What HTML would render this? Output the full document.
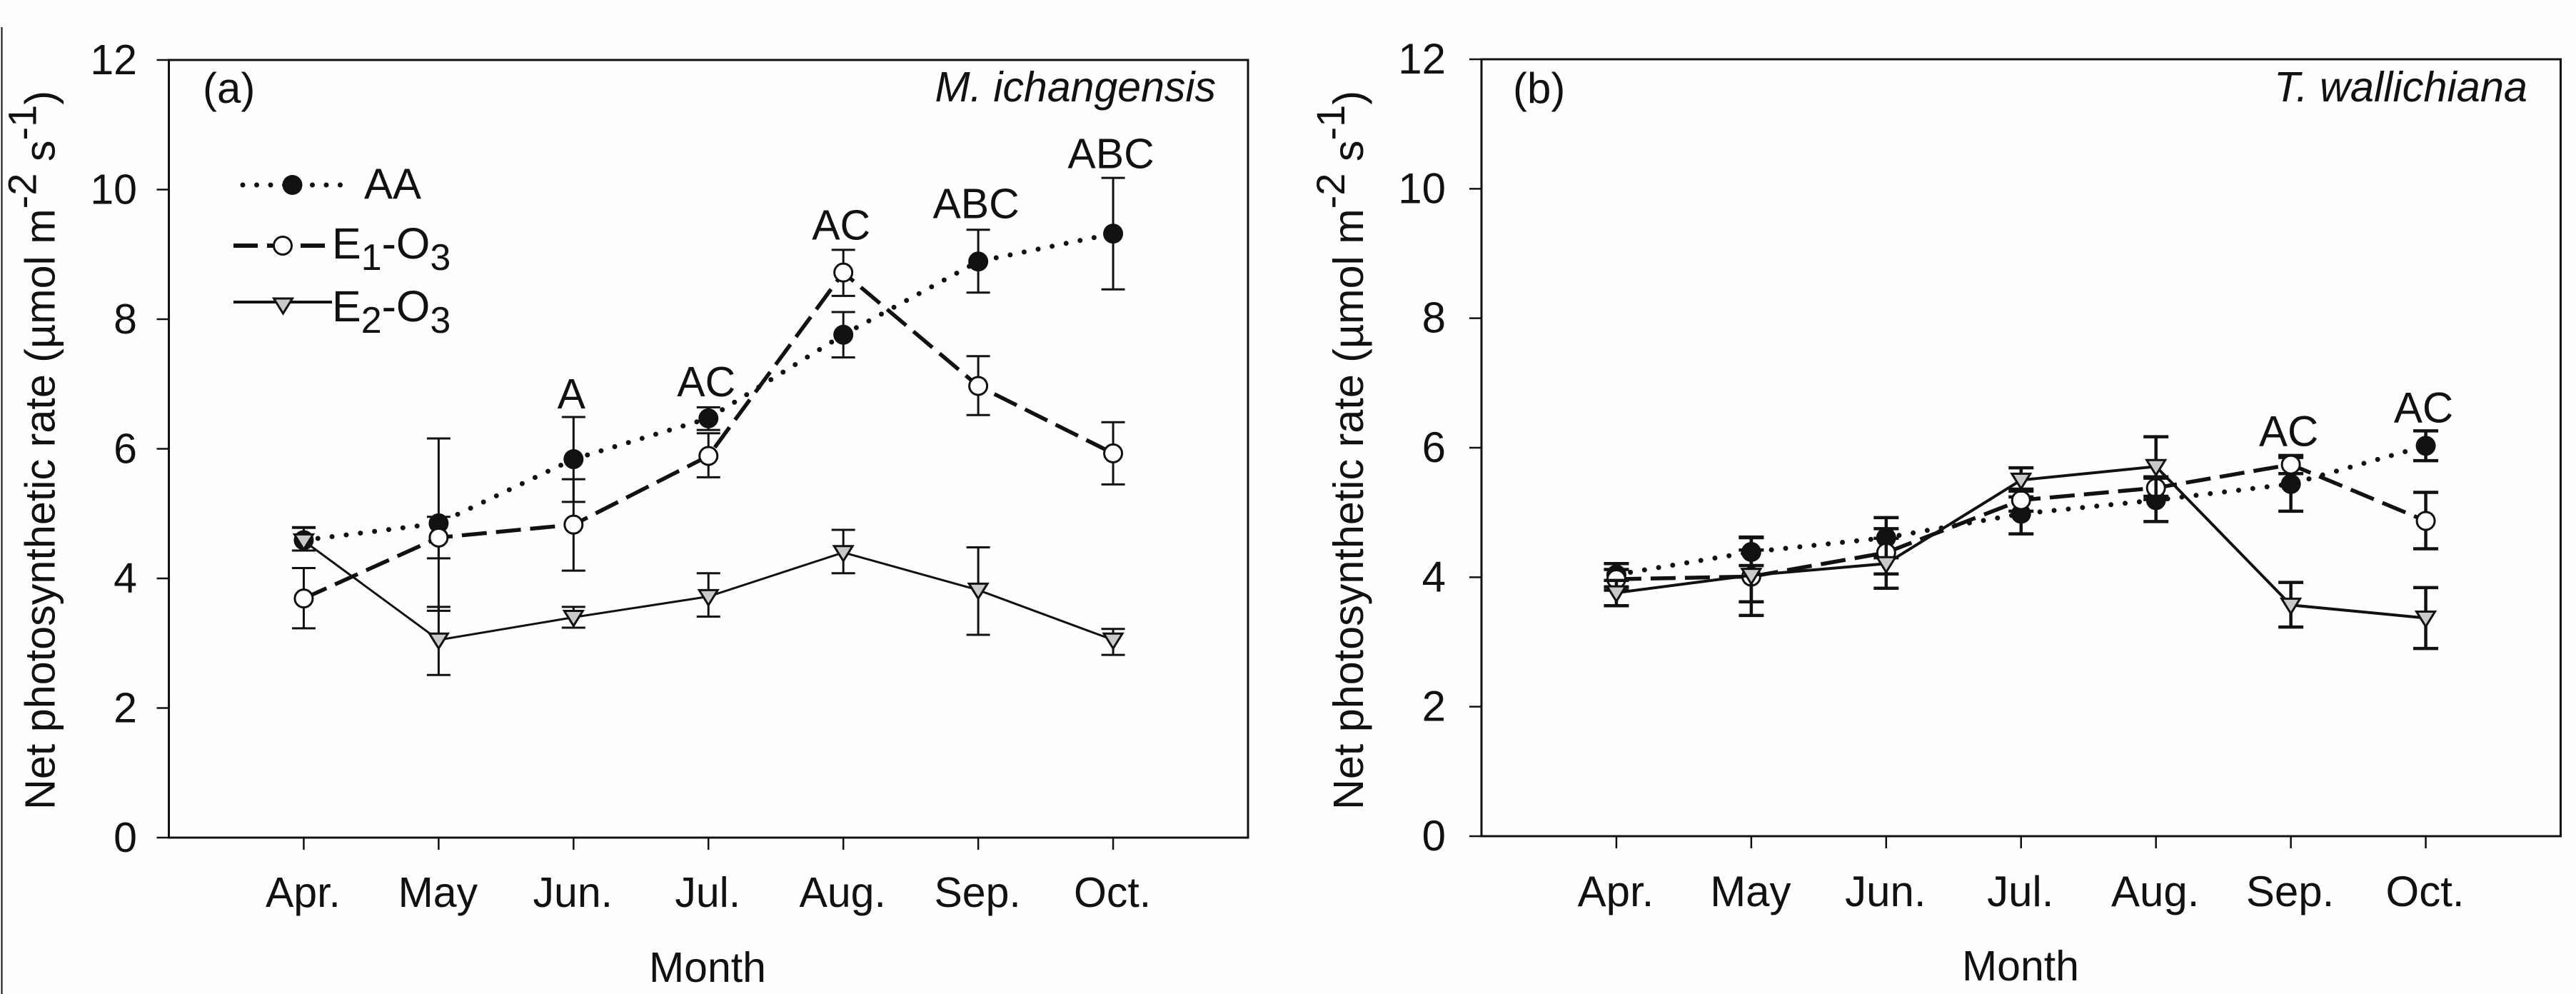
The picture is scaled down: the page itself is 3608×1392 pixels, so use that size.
<!DOCTYPE html>
<html lang="en">
<head>
<meta charset="utf-8">
<title>Net photosynthetic rate by month</title>
<style>
html,body{margin:0;padding:0;background:#fefefc;width:3608px;height:1392px;overflow:hidden}
svg{display:block;font-family:"Liberation Sans",Arial,sans-serif;fill:#111}
text{fill:#111}
</style>
</head>
<body>
<svg id="figure" xmlns="http://www.w3.org/2000/svg" width="3608" height="1392" viewBox="0 0 3608 1392">
  <rect x="0" y="0" width="3608" height="1392" fill="#fefefc"/>
  <line x1="2.5" y1="38" x2="2.5" y2="1392" stroke="#111" stroke-width="2"/>
  <g id="panel-a"></g>
  <g id="panel-b"></g>

  <text transform="translate(76.5,1134) rotate(-90)" font-size="59.3">Net photosynthetic rate (µmol m<tspan font-size="56" dy="-26">-2</tspan><tspan dy="26"> s</tspan><tspan font-size="56" dy="-26">-1</tspan><tspan dy="26">)</tspan></text>
  <text transform="translate(1909,1134) rotate(-90)" font-size="59.3">Net photosynthetic rate (µmol m<tspan font-size="56" dy="-26">-2</tspan><tspan dy="26"> s</tspan><tspan font-size="56" dy="-26">-1</tspan><tspan dy="26">)</tspan></text>
  <text x="991" y="1375" font-size="59" text-anchor="middle">Month</text>
  <text x="2830" y="1373" font-size="59" text-anchor="middle">Month</text>
  <text x="284" y="144" font-size="60">(a)</text>
  <text x="2119" y="144" font-size="60">(b)</text>
  <text x="1703" y="142" font-size="59" font-style="italic" text-anchor="end">M. ichangensis</text>
  <text x="3540" y="142" font-size="59.5" font-style="italic" text-anchor="end">T. wallichiana</text>

  <g>
    <g>
      <line x1="340" y1="259" x2="477" y2="259" stroke="#111" stroke-width="7" stroke-linecap="round" stroke-dasharray="0 19.5"/>
      <circle cx="409.5" cy="259" r="14" fill="#111"/>
      <text x="510" y="278" font-size="60">AA</text>
    </g>
    <g>
      <line x1="327" y1="344" x2="465" y2="344" stroke="#111" stroke-width="6" stroke-dasharray="34 13"/>
      <circle cx="396" cy="344" r="12.5" fill="#fefefc" stroke="#111" stroke-width="3"/>
      <text x="465" y="362" font-size="61">E<tspan font-size="52" dy="16">1</tspan><tspan dy="-16">-O</tspan><tspan font-size="52" dy="16">3</tspan></text>
    </g>
    <g>
      <line x1="327" y1="423" x2="465" y2="423" stroke="#111" stroke-width="4"/>
      <polygon points="383.5,418 409.5,418 396.5,439" fill="#c9c9c9" stroke="#111" stroke-width="3"/>
      <text x="465" y="450" font-size="61">E<tspan font-size="52" dy="16">2</tspan><tspan dy="-16">-O</tspan><tspan font-size="52" dy="16">3</tspan></text>
    </g>
  </g>
</svg>

<script>
const months = ['Apr.', 'May', 'Jun.', 'Jul.', 'Aug.', 'Sep.', 'Oct.'];
const yTicks = [0, 2, 4, 6, 8, 10, 12];

const aAA = [4.59, 4.85, 5.84, 6.47, 7.76, 8.89, 9.32];
const aAAHigh = [4.79, 6.16, 6.49, 6.64, 8.11, 9.38, 10.18];
const aAALow = [4.43, 3.5, 5.18, 6.29, 7.41, 8.41, 8.46];
const aE1 = [3.69, 4.63, 4.83, 5.89, 8.72, 6.97, 5.93];
const aE1High = [4.16, 4.95, 5.53, 6.24, 9.07, 7.43, 6.41];
const aE1Low = [3.23, 4.31, 4.12, 5.56, 8.36, 6.52, 5.45];
const aE2 = [4.58, 3.05, 3.4, 3.72, 4.4, 3.82, 3.05];
const aE2High = [4.78, 3.56, 3.56, 4.08, 4.75, 4.48, 3.22];
const aE2Low = [4.43, 2.51, 3.24, 3.41, 4.08, 3.13, 2.82];
const aNotes = ['', '', 'A', 'AC', 'AC', 'ABC', 'ABC'];
const aNoteValues = [0, 0, 6.62, 6.81, 9.23, 9.56, 10.33];

const bAA = [4.04, 4.39, 4.61, 4.98, 5.19, 5.44, 6.03];
const bAAHigh = [4.21, 4.62, 4.92, 5.24, 5.53, 5.85, 6.26];
const bAALow = [3.85, 4.18, 4.3, 4.67, 4.86, 5.02, 5.8];
const bE1 = [3.97, 4.01, 4.38, 5.19, 5.38, 5.74, 4.87];
const bE1High = [4.12, 4.61, 4.75, 5.36, 5.55, 5.88, 5.31];
const bE1Low = [3.8, 3.41, 4.05, 5.02, 5.2, 5.6, 4.44];
const bE2 = [3.76, 4.03, 4.21, 5.5, 5.71, 3.57, 3.37];
const bE2High = [3.95, 4.42, 4.6, 5.69, 6.17, 3.92, 3.84];
const bE2Low = [3.56, 3.62, 3.83, 5.33, 5.25, 3.23, 2.9];
const bNotes = ['', '', '', '', '', 'AC', 'AC'];
const bNoteValues = [0, 0, 0, 0, 0, 6.03, 6.39];

const NS = 'http://www.w3.org/2000/svg';
const INK = '#111';

function make(parent, tag, attrs, content) {
  const el = document.createElementNS(NS, tag);
  for (const k in attrs) el.setAttribute(k, attrs[k]);
  if (content !== undefined) el.textContent = content;
  parent.appendChild(el);
  return el;
}

function drawSeries(root, kind, means, highs, lows, sx, sy, style) {
  const pts = means.map((v, i) => sx(i).toFixed(1) + ',' + sy(v).toFixed(1)).join(' ');
  const lineAttrs = { points: pts, fill: 'none', stroke: INK };
  if (kind === 'aa') {
    lineAttrs['stroke-width'] = 7;
    lineAttrs['stroke-linecap'] = 'round';
    lineAttrs['stroke-dasharray'] = '0 20';
  } else if (kind === 'e1') {
    lineAttrs['stroke-width'] = 5.5;
    lineAttrs['stroke-dasharray'] = '35 13';
  } else {
    lineAttrs['stroke-width'] = style.e2Width;
  }
  const line = make(root, 'polyline', lineAttrs);
  
  

  means.forEach((v, i) => {
    const x = sx(i);
    const bar = make(root, 'line', { x1: x, x2: x, y1: sy(highs[i]), y2: sy(lows[i]), stroke: INK, 'stroke-width': style.err });
    
    
    const capHigh = make(root, 'line', { x1: x - style.cap, x2: x + style.cap, y1: sy(highs[i]), y2: sy(highs[i]), stroke: INK, 'stroke-width': style.err });
    
    
    const capLow = make(root, 'line', { x1: x - style.cap, x2: x + style.cap, y1: sy(lows[i]), y2: sy(lows[i]), stroke: INK, 'stroke-width': style.err });
    
    
  });

  means.forEach((v, i) => {
    const x = sx(i), y = sy(v);
    let mark;
    if (kind === 'aa') {
      mark = make(root, 'circle', { cx: x, cy: y, r: 14, fill: INK });
    } else if (kind === 'e1') {
      mark = make(root, 'circle', { cx: x, cy: y, r: 12.5, fill: '#fefefc', stroke: INK, 'stroke-width': 3 });
    } else {
      const p = [(x - 13) + ',' + (y - 9), (x + 13) + ',' + (y - 9), x + ',' + (y + 12)].join(' ');
      mark = make(root, 'polygon', { points: p, fill: '#c9c9c9', stroke: INK, 'stroke-width': 3 });
    }
    
    
  });
}

function drawPanel(rootId, g, series, notes, noteValues) {
  const root = document.getElementById(rootId);
  const sx = i => g.x0 + (i + 1) * (g.x1 - g.x0) / 8;
  const sy = v => g.y0 - v * (g.y0 - g.y12) / 12;

  const frame = make(root, 'rect', { x: g.x0, y: g.y12, width: g.x1 - g.x0, height: g.y0 - g.y12, fill: 'none', stroke: INK, 'stroke-width': 3 });
  
  

  yTicks.forEach(v => {
    const tick = make(root, 'line', { x1: g.x0 - 17, x2: g.x0, y1: sy(v), y2: sy(v), stroke: INK, 'stroke-width': 2.5 });
    
    
    const label = make(root, 'text', { x: g.yLabelX, y: sy(v) + 20, 'font-size': g.font, 'text-anchor': 'end' }, String(v));
    
    
  });

  months.forEach((m, i) => {
    const tick = make(root, 'line', { x1: sx(i), x2: sx(i), y1: g.y0, y2: g.y0 + 17, stroke: INK, 'stroke-width': 2.5 });
    
    
    const label = make(root, 'text', { x: sx(i) - 1, y: g.xLabelY, 'font-size': g.font, 'text-anchor': 'middle' }, m);
    
    
  });

  series.forEach(s => drawSeries(root, s.kind, s.means, s.highs, s.lows, sx, sy, g));

  notes.forEach((n, i) => {
    if (!n) return;
    const note = make(root, 'text', { x: sx(i) - 3, y: sy(noteValues[i]), 'font-size': g.font, 'text-anchor': 'middle' }, n);
    
    
  });
}

drawPanel('panel-a',
  { x0: 236.5, x1: 1748, y0: 1173, y12: 84, yLabelX: 192, xLabelY: 1270, err: 3, cap: 16.5, e2Width: 3, font: 59 },
  [
    { kind: 'aa', means: aAA, highs: aAAHigh, lows: aAALow },
    { kind: 'e1', means: aE1, highs: aE1High, lows: aE1Low },
    { kind: 'e2', means: aE2, highs: aE2High, lows: aE2Low }
  ], aNotes, aNoteValues);

drawPanel('panel-b',
  { x0: 2075, x1: 3586.5, y0: 1171, y12: 83, yLabelX: 2025, xLabelY: 1269, err: 4.5, cap: 17.5, e2Width: 4, font: 60 },
  [
    { kind: 'aa', means: bAA, highs: bAAHigh, lows: bAALow },
    { kind: 'e1', means: bE1, highs: bE1High, lows: bE1Low },
    { kind: 'e2', means: bE2, highs: bE2High, lows: bE2Low }
  ], bNotes, bNoteValues);
</script>
</body>
</html>
